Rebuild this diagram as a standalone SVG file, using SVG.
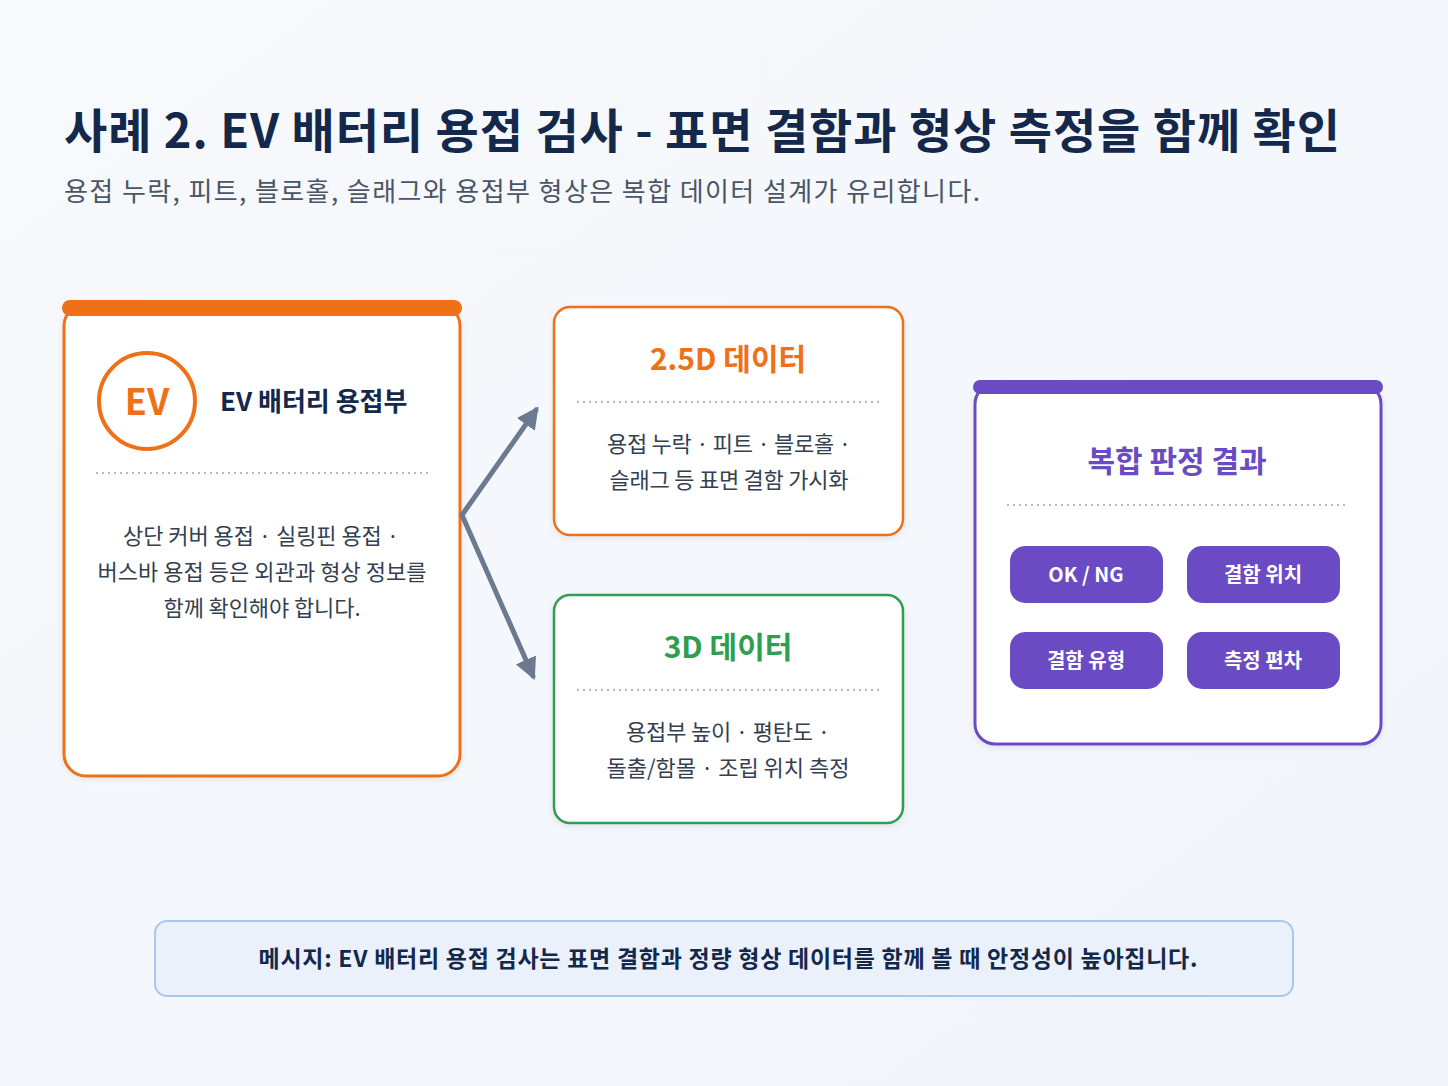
<svg xmlns="http://www.w3.org/2000/svg" width="1448" height="1086" viewBox="0 0 1448 1086">
<defs>
<linearGradient id="bg" x1="0" y1="0" x2="1" y2="1">
<stop offset="0" stop-color="#f7f9fc"/>
<stop offset="1" stop-color="#f1f5fb"/>
</linearGradient>
<marker id="ah" viewBox="0 0 10 10" refX="8" refY="5" markerWidth="4.4" markerHeight="4.4" orient="auto" markerUnits="strokeWidth">
<path d="M0,0 L10,5 L0,10 Z" fill="#6b7a8f"/>
</marker>
<filter id="sh" x="-10%" y="-10%" width="120%" height="120%">
<feDropShadow dx="0" dy="2" stdDeviation="3" flood-color="#1a2b4a" flood-opacity="0.08"/>
</filter>
</defs>
<style>
text{font-family:"Noto Sans CJK KR","Noto Sans",sans-serif;}
.title{font-size:47px;font-weight:700;fill:#14284b;}
.sub{font-size:26px;fill:#4b5566;}
.body{font-size:22px;fill:#343f50;text-anchor:middle;}
.dot{stroke:#b4b9c2;stroke-width:2;stroke-dasharray:2 4;fill:none;}
.btn{fill:#6a4bc4;}
.btxt{font-size:20px;font-weight:700;fill:#ffffff;text-anchor:middle;}
.conn{stroke:#6b7a8f;stroke-width:5;fill:none;stroke-linecap:round;stroke-linejoin:round;}
</style>
<rect width="1448" height="1086" fill="url(#bg)"/>
<text class="title" x="64" y="148" textLength="1276">사례 2. EV 배터리 용접 검사 - 표면 결함과 형상 측정을 함께 확인</text>
<text class="sub" x="64" y="201" textLength="916">용접 누락, 피트, 블로홀, 슬래그와 용접부 형상은 복합 데이터 설계가 유리합니다.</text>

<g id="node-ev">
<rect x="64" y="304" width="396" height="472" rx="22" fill="#ffffff" stroke="#f07018" stroke-width="3" filter="url(#sh)"/>
<rect x="62" y="300" width="400" height="16" rx="8" fill="#f07018"/>
<circle cx="147" cy="401" r="48" fill="#ffffff" stroke="#f07018" stroke-width="4"/>
<text x="147" y="415" font-size="36" font-weight="700" fill="#f07018" text-anchor="middle">EV</text>
<text x="220" y="411" font-size="26" font-weight="700" fill="#14284b">EV 배터리 용접부</text>
<line class="dot" x1="96" y1="473" x2="430" y2="473"/>
<text class="body" x="261" y="544" textLength="276">상단 커버 용접 · 실링핀 용접 ·</text>
<text class="body" x="262" y="580" textLength="329">버스바 용접 등은 외관과 형상 정보를</text>
<text class="body" x="262" y="616" textLength="197">함께 확인해야 합니다.</text>
</g>

<g id="node-25d">
<rect x="554" y="307" width="349" height="228" rx="16" fill="#ffffff" stroke="#f07018" stroke-width="2.5" filter="url(#sh)"/>
<text x="728" y="370" font-size="30" font-weight="700" fill="#f07018" text-anchor="middle">2.5D 데이터</text>
<line class="dot" x1="577" y1="402" x2="880" y2="402"/>
<text class="body" x="729" y="452" textLength="244">용접 누락 · 피트 · 블로홀 ·</text>
<text class="body" x="729" y="488" textLength="239">슬래그 등 표면 결함 가시화</text>
</g>

<g id="node-3d">
<rect x="554" y="595" width="349" height="228" rx="16" fill="#ffffff" stroke="#2e9e4f" stroke-width="2.5" filter="url(#sh)"/>
<text x="728" y="658" font-size="30" font-weight="700" fill="#2e9e4f" text-anchor="middle">3D 데이터</text>
<line class="dot" x1="577" y1="690" x2="880" y2="690"/>
<text class="body" x="728" y="740" textLength="204">용접부 높이 · 평탄도 ·</text>
<text class="body" x="728" y="776" textLength="243">돌출/함몰 · 조립 위치 측정</text>
</g>

<g id="node-result">
<rect x="975" y="384" width="406" height="360" rx="20" fill="#ffffff" stroke="#6a4bc4" stroke-width="3" filter="url(#sh)"/>
<rect x="973" y="380" width="410" height="14" rx="7" fill="#6a4bc4"/>
<text x="1177" y="472" font-size="30" font-weight="700" fill="#6a4bc4" text-anchor="middle">복합 판정 결과</text>
<line class="dot" x1="1007" y1="505" x2="1348" y2="505"/>
<rect class="btn" x="1010" y="546" width="153" height="57" rx="15"/>
<text class="btxt" x="1086" y="582">OK / NG</text>
<rect class="btn" x="1187" y="546" width="153" height="57" rx="15"/>
<text class="btxt" x="1263" y="582">결함 위치</text>
<rect class="btn" x="1010" y="632" width="153" height="57" rx="15"/>
<text class="btxt" x="1086" y="668">결함 유형</text>
<rect class="btn" x="1187" y="632" width="153" height="57" rx="15"/>
<text class="btxt" x="1263" y="668">측정 편차</text>
</g>

<g id="connectors">
<path class="conn" d="M462,515 L536,410" marker-end="url(#ah)"/>
<path class="conn" d="M462,515 L533,676" marker-end="url(#ah)"/>
</g>

<g id="message">
<rect x="155" y="921" width="1138" height="75" rx="12" fill="#eaf1fb" stroke="#a8c8ef" stroke-width="2"/>
<text x="728" y="967" font-size="23" font-weight="700" fill="#14284b" text-anchor="middle" textLength="939">메시지: EV 배터리 용접 검사는 표면 결함과 정량 형상 데이터를 함께 볼 때 안정성이 높아집니다.</text>
</g>
</svg>
